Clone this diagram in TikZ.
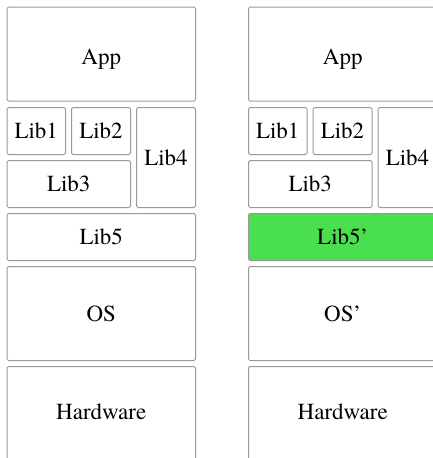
\documentclass[tikz,border=0pt]{standalone}
\usepackage{fontspec}
\IfFontExistsTF{texgyretermes-regular.otf}{\setmainfont{texgyretermes-regular.otf}}{}
\usepackage{xcolor}
\definecolor{libgreen}{RGB}{74,223,79}
\tikzset{
	layer/.style={
			draw=gray!80, line width=1pt, rounded corners=1.5pt,
			inner sep=0pt, anchor=north west,
			font=\rmfamily\fontsize{23}{27}\selectfont
		}
}

\begin{document}
\begin{tikzpicture}[x=1pt, y=-1pt]
		% Fix the page to the reference size
		\useasboundingbox (0, 0) rectangle (433, 458);
		\clip (0, 0) rectangle (433, 458);

		% Two software stacks, the right one with the changed library and OS
		\foreach \dx/\s/\libfive/\os/\libfill in {0/l/Lib5/OS/white, 241.5/r/Lib5’/OS’/libgreen} {
				\node[layer, minimum width=188.5pt, minimum height=94pt] (app-\s) at (6.5+\dx, 6.5) {};
				\node[font=\rmfamily\fontsize{23}{27}\selectfont] at ([yshift=-5pt]app-\s.center) {App};
				\node[layer, minimum width=58.5pt, minimum height=47pt] (lib1-\s) at (6.5+\dx, 107) {Lib1};
				\node[layer, minimum width=59pt, minimum height=47pt] (lib2-\s) at (71+\dx, 107) {Lib2};
				\node[layer, minimum width=123.5pt, minimum height=47pt] (lib3-\s) at (6.5+\dx, 160) {Lib3};
				\node[layer, minimum width=59pt, minimum height=100pt] (lib4-\s) at (136+\dx, 107) {Lib4};
				\node[layer, fill=\libfill, minimum width=188.5pt, minimum height=47pt] (lib5-\s) at (6.5+\dx, 213) {\libfive};
				\node[layer, minimum width=188.5pt, minimum height=94pt] (os-\s) at (6.5+\dx, 266) {\os};
				\node[layer, minimum width=188.5pt, minimum height=94pt] (hw-\s) at (6.5+\dx, 366) {};
				\node[font=\rmfamily\fontsize{23}{27}\selectfont] at ([yshift=2pt]hw-\s.center) {Hardware};
			}
	\end{tikzpicture}
\end{document}
